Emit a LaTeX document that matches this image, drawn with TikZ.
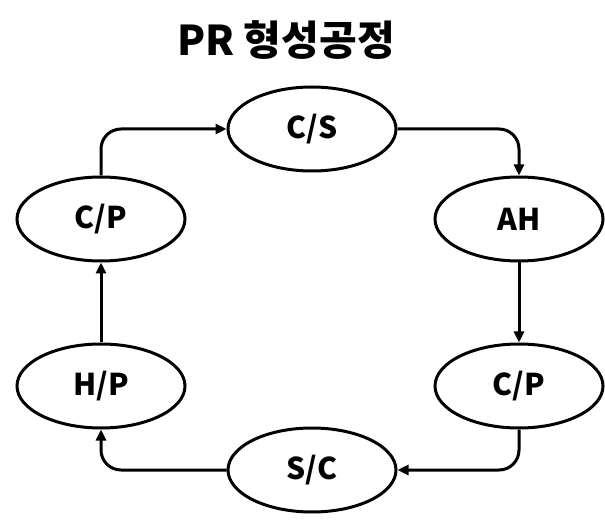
\documentclass[tikz,border=0pt]{standalone}
\usepackage{fontspec}
\setmainfont{Noto Sans CJK KR}
\usetikzlibrary{arrows.meta,shapes.geometric}
\begin{document}
\begin{tikzpicture}[x=1pt,y=-1pt,
  proc/.style={draw, line width=3pt, ellipse, minimum width=168pt, minimum height=84pt, inner sep=0pt, font=\fontsize{30}{34}\selectfont\bfseries},
  arr/.style={line width=3pt, -{Triangle[length=11pt,width=10pt]}, rounded corners=20pt}]
\useasboundingbox (0,0) rectangle (605,526);
\node[font=\fontsize{41}{46}\selectfont\bfseries] (title) at (286,40) {PR 형성공정};
\node[proc] (cs)  at (312,129) {C/S};
\node[proc] (ah)  at (519,219) {AH};
\node[proc] (cpr) at (519,386) {C/P};
\node[proc] (sc)  at (312,470) {S/C};
\node[proc] (hp)  at (101,386) {H/P};
\node[proc] (cpl) at (101,219) {C/P};
\draw[arr] (cpl.north) |- (cs.west);
\draw[arr] (cs.east) -| (ah.north);
\draw[arr] (ah.south) -- (cpr.north);
\draw[arr] (cpr.south) |- (sc.east);
\draw[arr] (sc.west) -| (hp.south);
\draw[arr] (hp.north) -- (cpl.south);
\end{tikzpicture}
\end{document}
